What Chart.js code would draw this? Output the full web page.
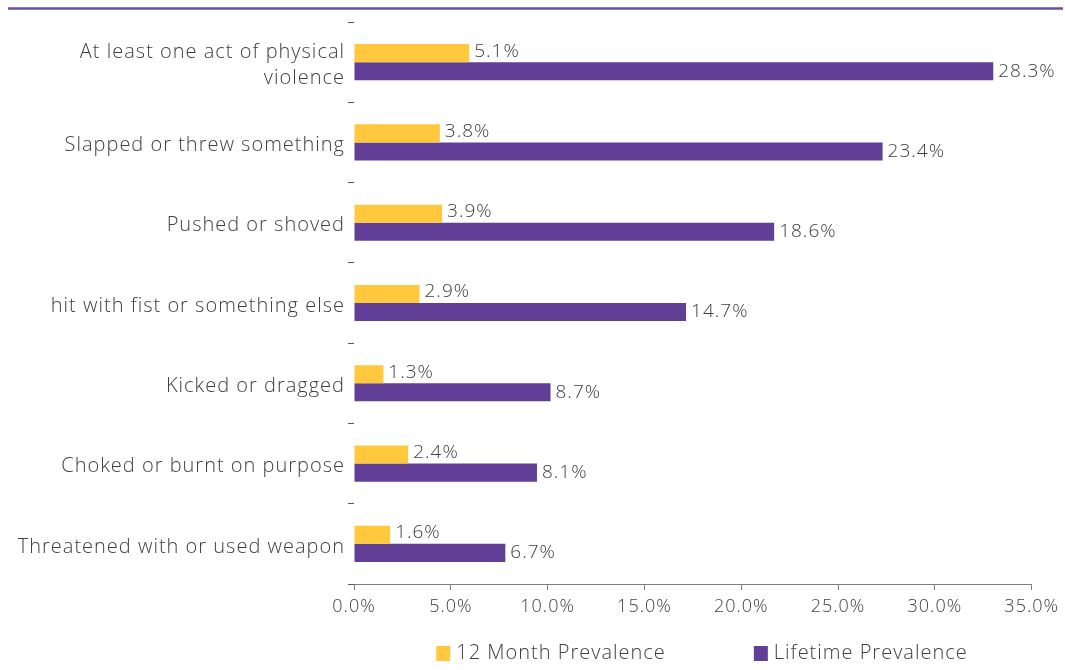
<!DOCTYPE html>
<html>
<head>
<meta charset="utf-8">
<script src="https://cdn.jsdelivr.net/npm/chart.js@4.4.1/dist/chart.umd.min.js"></script>
<style>
  html, body { margin: 0; padding: 0; background: #fff; }
  #wrap { width: 1065px; height: 670px; position: relative; }
</style>
</head>
<body>
<div id="wrap"><canvas id="chart" width="1065" height="670"></canvas></div>
<script>
var categories = [
  ['At least one act of physical', 'violence'],
  'Slapped or threw something',
  'Pushed or shoved',
  'hit with fist or something else',
  'Kicked or dragged',
  'Choked or burnt on purpose',
  'Threatened with or used weapon'
];
var month12 = [5.1, 3.8, 3.9, 2.9, 1.3, 2.4, 1.6];
var lifetime = [28.3, 23.4, 18.6, 14.7, 8.7, 8.1, 6.7];
var tickLabels = ['0.0%', '5.0%', '10.0%', '15.0%', '20.0%', '25.0%', '30.0%', '35.0%'];
var seriesNames = ['12 Month Prevalence', 'Lifetime Prevalence'];

var YELLOW = '#FFC83D';
var PURPLE = '#623F97';
var TEXT = '#404040';
var FONT = '"Open Sans", Lato, sans-serif';

// wider tracking for all canvas text (context state is reset when the canvas is sized)
var tracking = {
  id: 'tracking',
  beforeUpdate: function(chart) { chart.ctx.letterSpacing = '1px'; },
  beforeDraw: function(chart) { chart.ctx.letterSpacing = '1px'; }
};

// top rule + value labels + bottom legend
var decor = {
  id: 'decor',
  beforeDraw: function(chart) {
    var c = chart.ctx;
    c.save();
    c.strokeStyle = '#6B4FA0';
    c.lineWidth = 2.5;
    c.beginPath(); c.moveTo(8, 8.5); c.lineTo(1063, 8.5); c.stroke();
    c.restore();
  },
  afterDatasetsDraw: function(chart) {
    var c = chart.ctx;
    c.save();
    c.font = '300 19px ' + FONT;
    c.fillStyle = TEXT;
    c.textAlign = 'left';
    c.textBaseline = 'middle';
    chart.data.datasets.forEach(function(ds, di) {
      chart.getDatasetMeta(di).data.forEach(function(bar, i) {
        c.fillText(ds.data[i].toFixed(1) + '%', bar.x + 5, bar.y - (di === 0 ? 2 : 0));
      });
    });
    c.restore();
  },
  afterDraw: function(chart) {
    var c = chart.ctx;
    c.save();
    c.font = '300 20px ' + FONT;
    c.textBaseline = 'middle';
    var box = 14, gapText = 6, gapItem = 88, y = 653;
    var widths = chart.data.datasets.map(function(ds) { return box + gapText + c.measureText(ds.label).width; });
    var total = widths[0] + gapItem + widths[1];
    var x = 702 - total / 2;
    chart.data.datasets.forEach(function(ds, i) {
      c.fillStyle = ds.backgroundColor;
      c.fillRect(x, y - 7, box, box + 1);
      c.fillStyle = TEXT;
      c.fillText(ds.label, x + box + gapText, y);
      x += widths[i] + gapItem;
    });
    c.restore();
  }
};

new Chart(document.getElementById('chart'), {
  type: 'bar',
  data: {
    labels: categories,
    datasets: [
      { label: seriesNames[0], data: month12, backgroundColor: YELLOW },
      { label: seriesNames[1], data: lifetime, backgroundColor: PURPLE }
    ]
  },
  options: {
    indexAxis: 'y',
    responsive: false,
    animation: false,
    events: [],
    layout: { padding: { top: 22, right: 33, bottom: 46, left: 0 } },
    datasets: { bar: { barPercentage: 1, categoryPercentage: 0.45 } },
    plugins: { legend: { display: false }, tooltip: { enabled: false } },
    scales: {
      x: {
        min: 0, max: 30,
        afterBuildTicks: function(s) {
          s.ticks = tickLabels.map(function(t, i) { return { value: i * 30 / (tickLabels.length - 1) }; });
        },
        afterFit: function(s) { s.height = 40; },
        border: { display: true, color: '#7f7f7f', width: 1 },
        grid: { drawOnChartArea: false, drawTicks: true, tickLength: 6, color: '#7f7f7f' },
        ticks: {
          color: TEXT, font: { family: FONT, size: 18, weight: 300 }, padding: 6, maxRotation: 0, autoSkip: false,
          callback: function(v, i) { return tickLabels[i]; }
        }
      },
      y: {
        afterFit: function(s) { s.width = 354; },
        border: { display: false },
        grid: { offset: true, drawOnChartArea: false, drawTicks: true, tickLength: 6, color: '#595959' },
        ticks: {
          color: TEXT, font: { family: FONT, size: 20, weight: 300, lineHeight: 1.3 },
          padding: 3, labelOffset: 3, autoSkip: false
        }
      }
    }
  },
  plugins: [tracking, decor]
});
</script>
</body>
</html>
